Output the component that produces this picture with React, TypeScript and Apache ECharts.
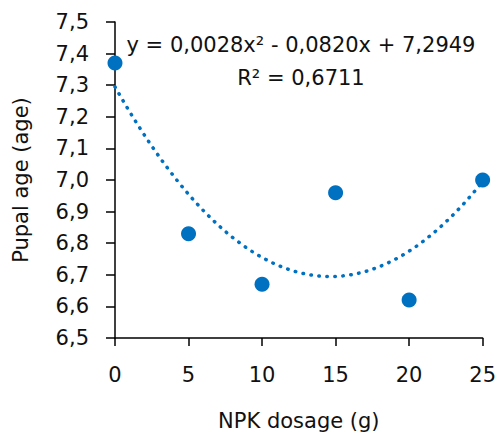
import React, { useEffect, useRef } from "react";
import * as echarts from "echarts";

const dosages = [0, 5, 10, 15, 20, 25];
const pupalAge = [7.37, 6.83, 6.67, 6.96, 6.62, 7.0];
const trendCoef = { a: 0.0028, b: -0.082, c: 7.2949 };
const equationLines = ["y = 0,0028x² - 0,0820x + 7,2949", "R² = 0,6711"];
const xTitle = "NPK dosage (g)";
const yTitle = "Pupal age (age)";

const FONT = "DejaVu Sans";
const FS = 21;
const BLUE = "#0070C0";
const TEXT = "#111111";

export default function App() {
  const ref = useRef<HTMLDivElement>(null);
  useEffect(() => {
    if (!ref.current) return;
    const chart = echarts.init(ref.current, undefined, { renderer: "svg" });
    const trend: number[][] = [];
    for (let x = 0; x <= 25.0001; x += 0.25) {
      trend.push([x, trendCoef.a * x * x + trendCoef.b * x + trendCoef.c]);
    }
    chart.setOption({
      animation: false,
      backgroundColor: "#ffffff",
      grid: { left: 115, right: 15, top: 22, bottom: 98, containLabel: false },
      xAxis: {
        type: "value",
        min: 0,
        max: 25,
        interval: 5,
        name: xTitle,
        nameLocation: "middle",
        nameGap: 72,
        nameTextStyle: { fontFamily: FONT, fontSize: FS, color: TEXT },
        axisLine: { show: true, onZero: false, lineStyle: { color: "#000", width: 1.5 } },
        axisTick: { show: true, inside: false, length: 8, lineStyle: { color: "#000", width: 1.5 } },
        axisLabel: { margin: 26, fontFamily: FONT, fontSize: FS, color: TEXT },
        splitLine: { show: false },
      },
      yAxis: {
        type: "value",
        min: 6.5,
        max: 7.5,
        interval: 0.1,
        name: yTitle,
        nameLocation: "middle",
        nameGap: 84,
        nameTextStyle: { fontFamily: FONT, fontSize: FS, color: TEXT },
        axisLine: { show: true, lineStyle: { color: "#000", width: 1.5 } },
        axisTick: { show: true, inside: false, length: 9, lineStyle: { color: "#000", width: 1.5 } },
        axisLabel: {
          margin: 26,
          fontFamily: FONT,
          fontSize: FS,
          color: TEXT,
          formatter: (v: number) => v.toFixed(1).replace(".", ","),
        },
        splitLine: { show: false },
      },
      series: [
        {
          type: "line",
          data: trend,
          showSymbol: false,
          symbol: "none",
          smooth: false,
          lineStyle: { color: BLUE, width: 3.5, type: [0.5, 7.5], cap: "round" },
          z: 2,
        },
        {
          type: "scatter",
          data: dosages.map((d, i) => [d, pupalAge[i]]),
          symbolSize: 15,
          itemStyle: { color: BLUE, opacity: 1 },
          z: 3,
        },
      ],
      graphic: [
        {
          type: "text",
          x: 301,
          y: 45,
          style: {
            text: equationLines[0],
            fontFamily: FONT,
            fontSize: FS,
            fill: TEXT,
            align: "center",
            verticalAlign: "middle",
          },
        },
        {
          type: "text",
          x: 301,
          y: 78,
          style: {
            text: equationLines[1],
            fontFamily: FONT,
            fontSize: FS,
            fill: TEXT,
            align: "center",
            verticalAlign: "middle",
          },
        },
      ],
    });
    return () => chart.dispose();
  }, []);
  return <div ref={ref} style={{ width: 499, height: 436, position: "absolute", left: 0, top: 0 }} />;
}
